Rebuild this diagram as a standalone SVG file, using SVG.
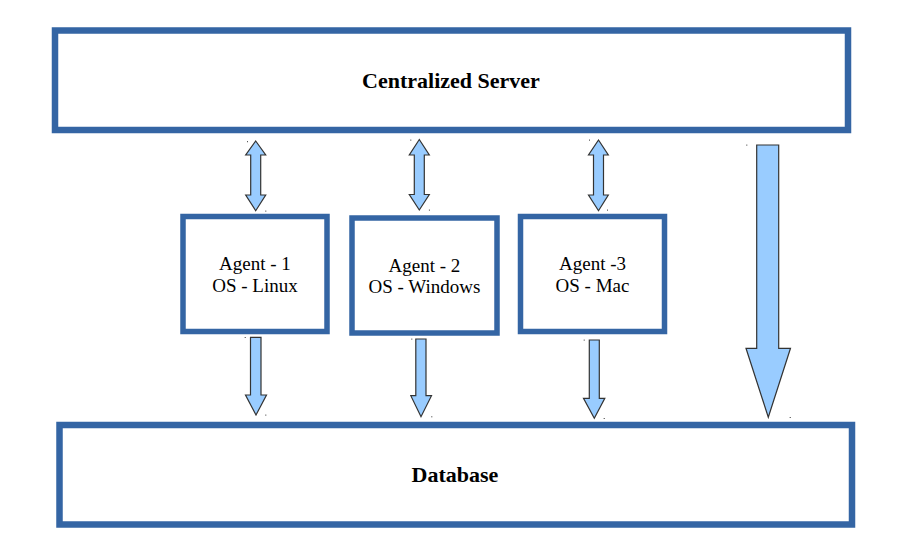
<svg xmlns="http://www.w3.org/2000/svg" width="904" height="557" viewBox="0 0 904 557">
<style>
.box{fill:#ffffff;stroke:#3465a4;stroke-width:6.5}
.abox{fill:#ffffff;stroke:#3465a4;stroke-width:5.5}
.title{font-family:"Liberation Serif",serif;font-weight:bold;font-size:22px;fill:#000;text-anchor:middle}
.lbl{font-family:"Liberation Serif",serif;font-size:19px;fill:#000;text-anchor:middle}
.arr{fill:#99ccff;stroke:#333333;stroke-width:1.2;stroke-linejoin:miter}
.dot{fill:#333333}
</style>
<rect width="904" height="557" fill="#ffffff"/>
<g id="server">
<rect class="box" x="55" y="30.5" width="793" height="99.5"/>
<text class="title" x="451" y="88.3">Centralized Server</text>
</g>
<g id="database">
<rect class="box" x="59.5" y="425" width="792.5" height="99.5"/>
<text class="title" x="455" y="481.7">Database</text>
</g>
<g id="agent1">
<rect class="abox" x="183" y="216.5" width="144" height="115"/>
<text class="lbl" x="255" y="270">Agent - 1</text>
<text class="lbl" x="255" y="291.7">OS - Linux</text>
</g>
<g id="agent2">
<rect class="abox" x="352" y="218" width="145" height="115"/>
<text class="lbl" x="424.5" y="271.7">Agent - 2</text>
<text class="lbl" x="424.5" y="293.3">OS - Windows</text>
</g>
<g id="agent3">
<rect class="abox" x="520.5" y="216.5" width="144" height="115"/>
<text class="lbl" x="592.5" y="270">Agent -3</text>
<text class="lbl" x="592.5" y="291.7">OS - Mac</text>
</g>
<g id="connectors">
<!-- double arrows server <-> agents -->
<path class="arr" d="M255.7,141 L265.7,155 L260.7,155 L260.7,195 L265.7,195 L255.7,210.7 L245.7,195 L250.7,195 L250.7,155 L245.7,155 Z"/>
<path class="arr" d="M419.3,139.5 L429.3,155 L424.3,155 L424.3,194.5 L429.3,194.5 L419.3,210 L409.3,194.5 L414.3,194.5 L414.3,155 L409.3,155 Z"/>
<path class="arr" d="M598.5,140 L608.3,155 L603.5,155 L603.5,195 L608.3,195 L598.5,210.7 L588.5,195 L593.5,195 L593.5,155 L588.5,155 Z"/>
<!-- down arrows agents -> database -->
<path class="arr" d="M250.5,337.3 L261,337.3 L261,395 L266.5,395 L256,415 L245.5,395 L250.5,395 Z"/>
<path class="arr" d="M415.8,339 L426,339 L426,395.7 L431.5,395.7 L421,416.7 L410.8,395.7 L415.8,395.7 Z"/>
<path class="arr" d="M589.3,340 L599.3,340 L599.3,398.3 L604.8,398.3 L594.3,418.3 L583.5,398.3 L589.3,398.3 Z"/>
<!-- big arrow server -> database -->
<path class="arr" d="M756.7,145 L778.7,145 L778.7,348.3 L790.5,348.3 L768.3,417.3 L746,348.3 L756.7,348.3 Z"/>
<!-- tiny corner marks -->
<rect class="dot" x="247" y="141.2" width="1" height="1"/>
<rect class="dot" x="265.3" y="210.6" width="1" height="1"/>
<rect class="dot" x="410.3" y="139.6" width="1" height="1"/>
<rect class="dot" x="428.9" y="209.6" width="1" height="1"/>
<rect class="dot" x="589" y="139.6" width="1" height="1"/>
<rect class="dot" x="607" y="209.6" width="1" height="1"/>
<rect class="dot" x="244.7" y="337" width="1" height="1"/>
<rect class="dot" x="265.3" y="414.6" width="1" height="1"/>
<rect class="dot" x="411.3" y="338.6" width="1" height="1"/>
<rect class="dot" x="431.3" y="416.3" width="1" height="1"/>
<rect class="dot" x="583.7" y="339.6" width="1" height="1"/>
<rect class="dot" x="603.7" y="418" width="1" height="1"/>
<rect class="dot" x="746.3" y="144.6" width="1" height="1"/>
<rect class="dot" x="789.7" y="417" width="1" height="1"/>
</g>
</svg>
